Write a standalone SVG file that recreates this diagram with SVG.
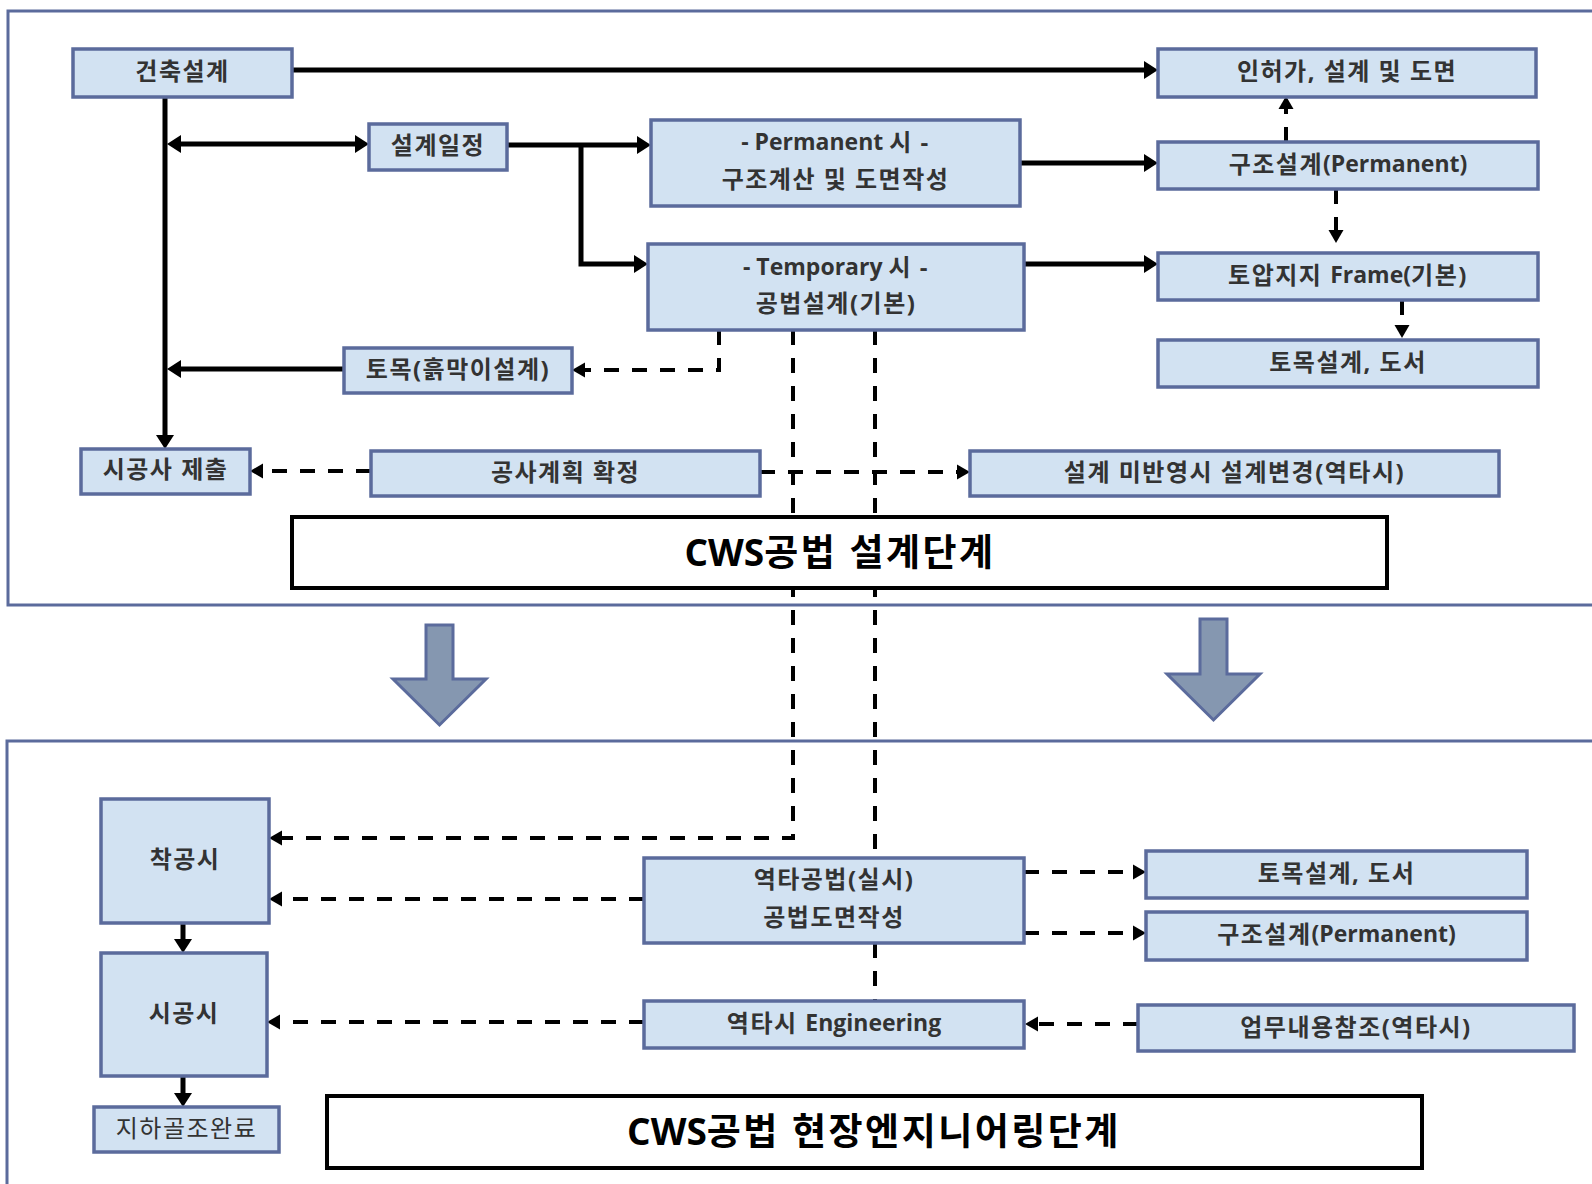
<svg xmlns="http://www.w3.org/2000/svg" width="1592" height="1184" viewBox="0 0 1592 1184">
<style>
.node rect{fill:#d2e2f2;stroke:#5b6b9c;stroke-width:3.5}
.node text{font-family:"Open Sans","Noto Sans CJK KR",sans-serif;font-weight:700;font-size:24px;letter-spacing:1.5px;fill:#333;text-anchor:middle;dominant-baseline:central}
.node text.reg{font-weight:400}
.lat{letter-spacing:0;font-size:23px}
.frame{fill:none;stroke:#5b6b9c;stroke-width:3}
.title rect{fill:#fff;stroke:#000;stroke-width:4}
.title text{font-family:"Open Sans","Noto Sans CJK KR",sans-serif;font-weight:700;font-size:37px;letter-spacing:2.5px;fill:#000;text-anchor:middle;dominant-baseline:central}
.title .lat{letter-spacing:0;font-size:37px}
.big{fill:#8597b0;stroke:#5b6b9c;stroke-width:3}
.solid{fill:none;stroke:#000;stroke-width:5}
.dash{fill:none;stroke:#000;stroke-width:4;stroke-dasharray:15 13}
</style>
<defs>
<marker id="as" markerUnits="userSpaceOnUse" markerWidth="14" markerHeight="18" refX="0" refY="9" orient="auto" overflow="visible"><path d="M0,0 L14,9 L0,18 z" fill="#000"/></marker>
<marker id="ad" markerUnits="userSpaceOnUse" markerWidth="13" markerHeight="15" refX="0" refY="7.5" orient="auto" overflow="visible"><path d="M0,0 L13,7.5 L0,15 z" fill="#000"/></marker>
<marker id="as0" markerUnits="userSpaceOnUse" markerWidth="14" markerHeight="18" refX="14" refY="9" orient="auto" overflow="visible"><path d="M14,0 L0,9 L14,18 z" fill="#000"/></marker>
</defs>
<rect width="1592" height="1184" fill="#fff"/>
<rect class="frame" x="8" y="11" width="1620" height="594"/>
<rect class="frame" x="7" y="741" width="1620" height="520"/>
<g id="connectors">
<path class="solid" d="M292,70 H1144" marker-end="url(#as)"/>
<path class="solid" d="M165,97 V435" marker-end="url(#as)"/>
<path class="solid" d="M181,144 H355" marker-start="url(#as0)" marker-end="url(#as)"/>
<path class="solid" d="M507,145 H637" marker-end="url(#as)"/>
<path class="solid" d="M581,145 V264 H634" marker-end="url(#as)"/>
<path class="solid" d="M1020,163 H1144" marker-end="url(#as)"/>
<path class="solid" d="M1024,264 H1144" marker-end="url(#as)"/>
<path class="solid" d="M344,369 H181" marker-end="url(#as)"/>
<path class="solid" d="M183,923 V939" marker-end="url(#as)"/>
<path class="solid" d="M183,1076 V1093" marker-end="url(#as)"/>
<path class="dash" d="M1286,142 V109" marker-end="url(#ad)"/>
<path class="dash" d="M1336,189 V230" marker-end="url(#ad)"/>
<path class="dash" d="M1402,300 V325" marker-end="url(#ad)"/>
<path class="dash" d="M719,330 V370 H585" marker-end="url(#ad)"/>
<path class="dash" d="M371,471 H263" marker-end="url(#ad)"/>
<path class="dash" d="M760,472 H957" marker-end="url(#ad)"/>
<path class="dash" d="M793,330 V838 H282" marker-end="url(#ad)"/>
<path class="dash" d="M875,330 V858"/>
<path class="dash" d="M875,943 V1001"/>
<path class="dash" d="M644,899 H282" marker-end="url(#ad)"/>
<path class="dash" d="M644,1022 H280" marker-end="url(#ad)"/>
<path class="dash" d="M1024,872 H1133" marker-end="url(#ad)"/>
<path class="dash" d="M1024,933 H1133" marker-end="url(#ad)"/>
<path class="dash" d="M1138,1024 H1038" marker-end="url(#ad)"/>
</g>
<polygon class="big" points="426,625 453,625 453,679 486,679 439.5,725 393,679 426,679"/>
<polygon class="big" points="1200,619 1227,619 1227,674 1260,674 1213.5,720 1167,674 1200,674"/>
<g id="title1" class="title"><rect x="292" y="517" width="1095" height="71"/><text x="840" y="551"><tspan class="lat">CWS</tspan>공법 설계단계</text></g>
<g id="title2" class="title"><rect x="327" y="1096" width="1095" height="72"/><text x="874" y="1130"><tspan class="lat">CWS</tspan>공법 현장엔지니어링단계</text></g>
<g id="n1" class="node"><rect x="73" y="49" width="219" height="48"/><text x="182.5" y="70">건축설계</text></g>
<g id="n2" class="node"><rect x="1158" y="49" width="378" height="48"/><text x="1347" y="70">인허가, 설계 및 도면</text></g>
<g id="n3" class="node"><rect x="369" y="124" width="138" height="46"/><text x="438" y="144">설계일정</text></g>
<g id="n4" class="node"><rect x="651" y="120" width="369" height="86"/><text x="835.5" y="141"><tspan class="lat">- Permanent </tspan>시 -</text><text x="835.5" y="178">구조계산 및 도면작성</text></g>
<g id="n5" class="node"><rect x="1158" y="142" width="380" height="47"/><text x="1348" y="163">구조설계<tspan class="lat">(Permanent)</tspan></text></g>
<g id="n6" class="node"><rect x="648" y="244" width="376" height="86"/><text x="836" y="266"><tspan class="lat">- Temporary </tspan>시 -</text><text x="836" y="302">공법설계(기본)</text></g>
<g id="n7" class="node"><rect x="1158" y="253" width="380" height="47"/><text x="1348" y="274">토압지지 <tspan class="lat">Frame(</tspan>기본)</text></g>
<g id="n8" class="node"><rect x="344" y="348" width="228" height="45"/><text x="458" y="368">토목(흙막이설계)</text></g>
<g id="n9" class="node"><rect x="1158" y="340" width="380" height="47"/><text x="1348" y="361">토목설계, 도서</text></g>
<g id="n10" class="node"><rect x="81" y="449" width="169" height="45"/><text x="165.5" y="468">시공사 제출</text></g>
<g id="n11" class="node"><rect x="371" y="451" width="389" height="45"/><text x="565.5" y="471">공사계획 확정</text></g>
<g id="n12" class="node"><rect x="970" y="451" width="529" height="45"/><text x="1234.5" y="471">설계 미반영시 설계변경(역타시)</text></g>
<g id="n13" class="node"><rect x="101" y="799" width="168" height="124"/><text x="185" y="858">착공시</text></g>
<g id="n14" class="node"><rect x="101" y="953" width="166" height="123"/><text x="184" y="1012">시공시</text></g>
<g id="n15" class="node"><rect x="94" y="1107" width="185" height="45"/><text class="reg" x="186.5" y="1127">지하골조완료</text></g>
<g id="n16" class="node"><rect x="644" y="858" width="380" height="85"/><text x="834" y="878">역타공법(실시)</text><text x="834" y="916">공법도면작성</text></g>
<g id="n17" class="node"><rect x="1146" y="851" width="381" height="47"/><text x="1336.5" y="872">토목설계, 도서</text></g>
<g id="n18" class="node"><rect x="1146" y="912" width="381" height="48"/><text x="1336.5" y="933">구조설계<tspan class="lat">(Permanent)</tspan></text></g>
<g id="n19" class="node"><rect x="644" y="1001" width="380" height="47"/><text x="834" y="1022">역타시 <tspan class="lat">Engineering</tspan></text></g>
<g id="n20" class="node"><rect x="1138" y="1005" width="436" height="46"/><text x="1356" y="1026">업무내용참조(역타시)</text></g>
</svg>
